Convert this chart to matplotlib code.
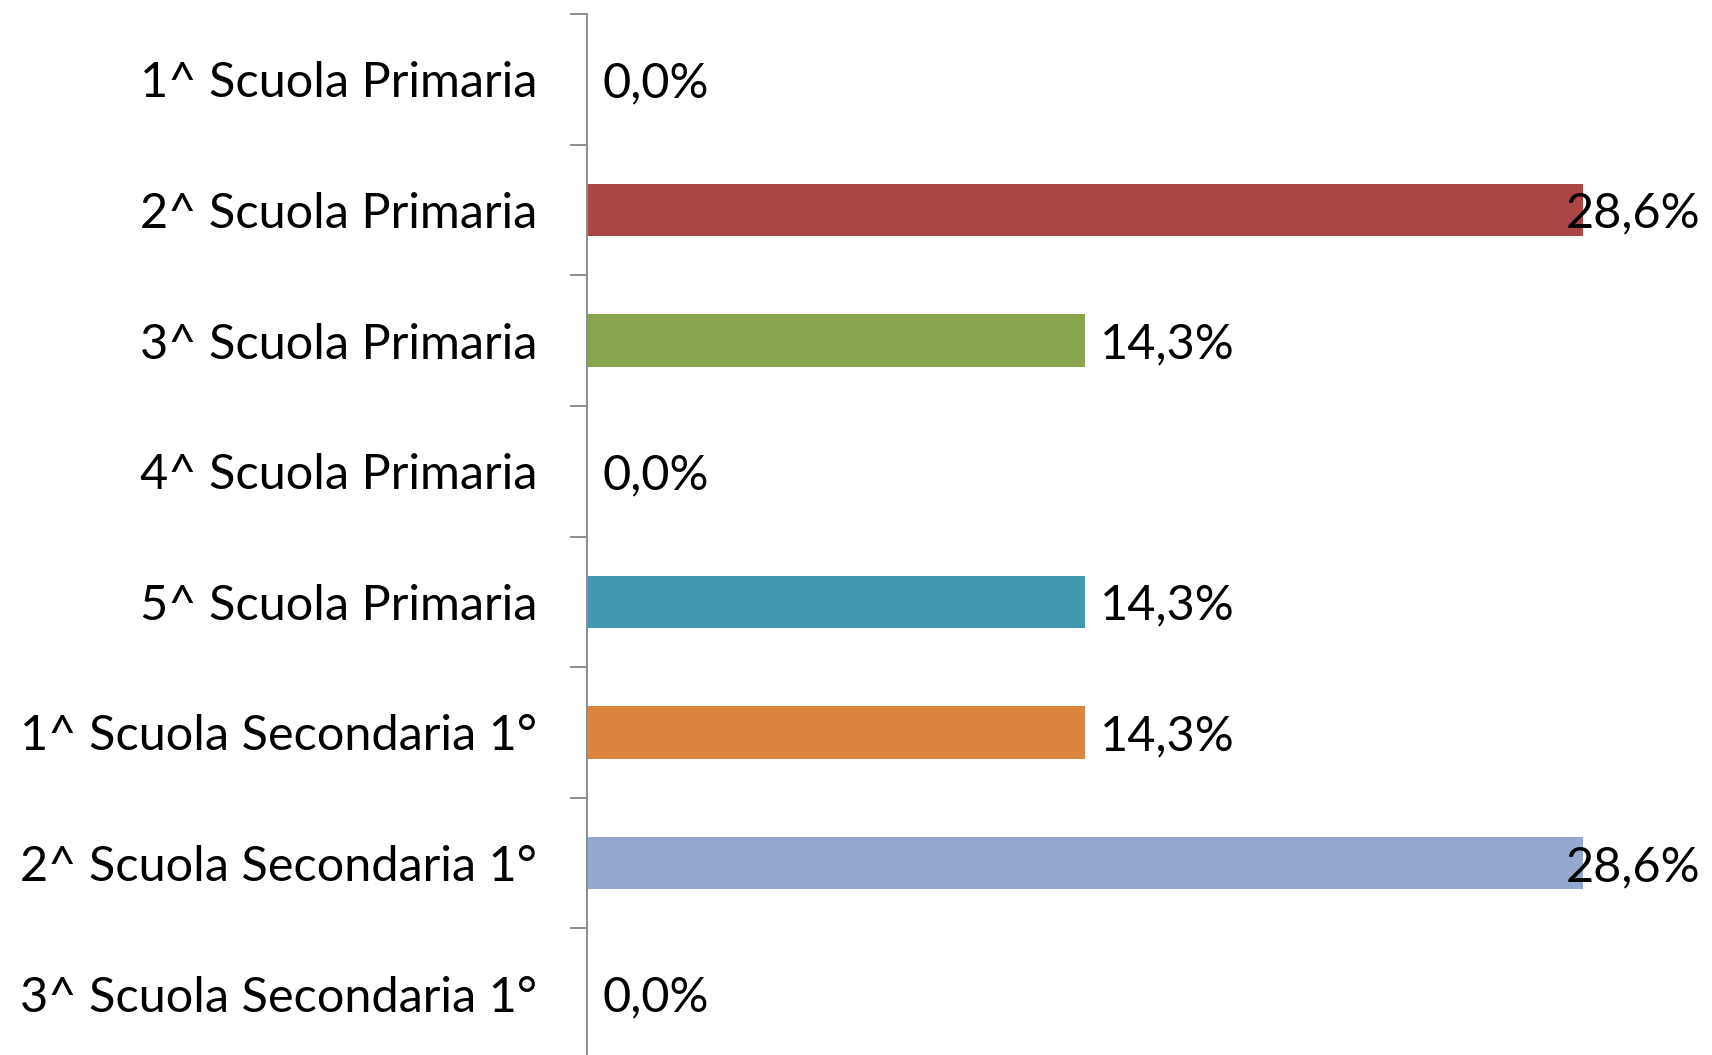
import numpy as np
import matplotlib.pyplot as plt
from matplotlib.ticker import FixedLocator, NullFormatter
import matplotlib.transforms as mtransforms

plt.rcParams['font.family'] = ['Lato', 'DejaVu Sans']

# categories (top to bottom) and values in percent
categories = ["1^ Scuola Primaria", "2^ Scuola Primaria", "3^ Scuola Primaria",
              "4^ Scuola Primaria", "5^ Scuola Primaria",
              "1^ Scuola Secondaria 1°", "2^ Scuola Secondaria 1°",
              "3^ Scuola Secondaria 1°"]
values = [0.0, 28.6, 14.3, 0.0, 14.3, 14.3, 28.6, 0.0]
labels = ["0,0%", "28,6%", "14,3%", "0,0%", "14,3%", "14,3%", "28,6%", "0,0%"]
colors = ["#4572A7", "#AA4643", "#89A54E", "#71588F", "#4198AF",
          "#DB843D", "#93A9CF", "#D19392"]

W, H = 1712, 1055
fig = plt.figure(figsize=(W / 100, H / 100), dpi=100)
# plot area: left edge at the axis line, 8 bands of ~130 px from the top
ax = fig.add_axes([587 / W, -4 / H, 1 - 587 / W, 1045 / H])

y = np.arange(len(categories))
ax.barh(y, values, height=0.4, color=colors)
ax.set_ylim(len(categories) - 0.5, -0.5)
ax.set_xlim(0, 32.3)

for s in ["top", "right", "bottom"]:
    ax.spines[s].set_visible(False)
ax.spines["left"].set_color("#8C8C8C")
ax.spines["left"].set_linewidth(1.4)

ax.set_xticks([])
ax.set_yticks(y)
ax.set_yticklabels(categories, fontsize=35)
ax.tick_params(axis="y", which="major", length=0, pad=36)
ax.yaxis.set_minor_locator(FixedLocator(np.arange(-0.5, len(categories) + 0.5, 1.0)))
ax.yaxis.set_minor_formatter(NullFormatter())
ax.tick_params(axis="y", which="minor", length=12, width=1.4, color="#8C8C8C")

# data labels; the long ones are pushed back inside the plot area
edge = mtransforms.blended_transform_factory(ax.transAxes, ax.transData)
for yi, v, lab in zip(y, values, labels):
    if v > 25:
        ax.text(0.99, yi + 0.03, lab, transform=edge, ha="right", va="center", fontsize=35)
    else:
        ax.annotate(lab, (v, yi + 0.03), xytext=(11, 0), textcoords="offset points",
                    ha="left", va="center", fontsize=35)

fig.savefig("out.png", dpi=100)
